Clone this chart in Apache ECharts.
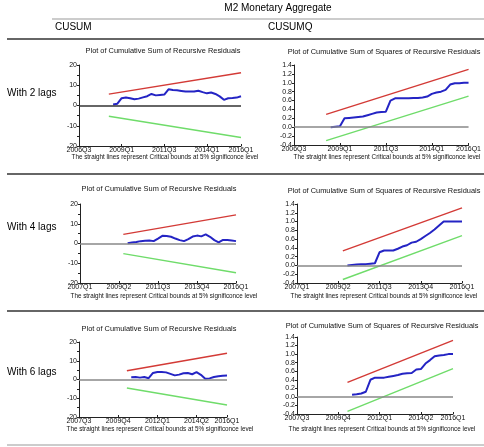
<!DOCTYPE html>
<html>
<head>
<meta charset="utf-8">
<script src="https://cdn.jsdelivr.net/npm/echarts@6/dist/echarts.min.js"></script>
<style>
html,body{margin:0;padding:0;background:#fff}
#main{width:484px;height:447px}
</style>
</head>
<body>
<div id="main"></div>
<script>
// tick labels for each lag row
var ticks2 = ['2006Q3', '2009Q1', '2011Q3', '2014Q1', '2016Q1'];
var ticks4 = ['2007Q1', '2009Q2', '2011Q3', '2013Q4', '2016Q1'];
var ticks6 = ['2007Q3', '2009Q4', '2012Q1', '2014Q2', '2016Q1'];

// index of first recursive residual on each axis
var start2 = 8, start4 = 11, start6 = 12;

// with 2 lags
var cusum2 = [0.5, 0.9, 3.6, 4.0, 3.6, 3.1, 3.4, 4.0, 4.6, 5.7, 5.0, 5.2, 5.4, 8.0, 7.7, 7.5,
    7.2, 6.9, 6.9, 6.9, 7.3, 6.6, 6.0, 6.4, 5.7, 4.5, 2.8, 3.6, 3.7, 3.9, 4.6];
var cusumq2 = [0.0, 0.01, 0.02, 0.2, 0.21, 0.22, 0.23, 0.24, 0.27, 0.3, 0.33, 0.34, 0.35, 0.6, 0.65, 0.65,
    0.65, 0.65, 0.66, 0.66, 0.67, 0.69, 0.75, 0.78, 0.8, 0.84, 0.96, 0.99, 0.99, 1.0, 1.0];
var upper2 = [5.6, 16.2], lower2 = [-5.3, -15.8];
var upperq2 = [0.29, 1.30], lowerq2 = [-0.30, 0.70];

// with 4 lags
var cusum4 = [0.1, 0.5, 0.8, 1.2, 1.4, 1.5, 1.2, 2.5, 3.9, 3.8, 3.4, 2.5, 1.7, 1.2, 2.2, 3.5,
    4.0, 3.6, 4.6, 3.4, 1.7, 0.6, 1.8, 1.8, 1.5, 1.2];
var cusumq4 = [0.0, 0.01, 0.02, 0.03, 0.03, 0.04, 0.05, 0.3, 0.34, 0.34, 0.34, 0.38, 0.43, 0.46, 0.52, 0.54,
    0.6, 0.67, 0.74, 0.82, 0.91, 1.0, 1.0, 1.0, 1.0, 1.0];
var upper4 = [4.6, 14.5], lower4 = [-5.1, -14.8];
var upperq4 = [0.33, 1.31], lowerq4 = [-0.32, 0.68];

// with 6 lags
var cusum6 = [1.2, 1.3, 1.0, 1.3, 0.7, 3.5, 4.0, 4.0, 3.8, 3.0, 2.2, 2.6, 3.3, 3.5, 2.8, 3.9,
    2.5, 0.4, 0.6, 1.3, 1.7, 2.0, 2.1];
var cusumq6 = [0.05, 0.06, 0.08, 0.12, 0.4, 0.45, 0.45, 0.45, 0.47, 0.49, 0.51, 0.54, 0.55, 0.56, 0.64, 0.65,
    0.78, 0.86, 0.95, 0.97, 0.98, 1.0, 1.0];
var upper6 = [4.7, 14.0], lower6 = [-4.5, -13.6];
var upperq6 = [0.34, 1.32], lowerq6 = [-0.34, 0.66];

// quarter categories between two labels
function quarters(a, b) {
    var y = +a.slice(0, 4), q = +a.slice(5), out = [];
    while (true) {
        var s = y + 'Q' + q;
        out.push(s);
        if (s === b || out.length > 200) break;
        q++;
        if (q > 4) { q = 1; y++; }
    }
    return out;
}
var cats2 = quarters(ticks2[0], '2016Q1');
var cats4 = quarters(ticks4[0], '2016Q1');
var cats6 = quarters(ticks6[0], '2016Q1');

function pad(vals, start, n) {
    var d = [];
    for (var i = 0; i < n; i++) d.push(i >= start && i - start < vals.length ? vals[i - start] : null);
    return d;
}
function ends(pair, start, n) {
    var d = [];
    for (var i = 0; i < n; i++) d.push(null);
    d[start] = pair[0];
    d[n - 1] = pair[1];
    return d;
}

var FONT = 'Liberation Sans, Arial, sans-serif';
var grids = [], xAxes = [], yAxes = [], series = [], texts = [];

function addChart(box, cats, ticks, start, vals, upper, lower, isQ, zeroColor, title, tx, ty, fx, fy) {
    var k = grids.length;
    var n = cats.length;
    grids.push({left: box[0], top: box[1], width: box[2], height: box[3]});
    var show = function (i, v) { return ticks.indexOf(v) >= 0; };
    xAxes.push({
        type: 'category', gridIndex: k, data: cats, boundaryGap: false,
        axisLine: {show: true, onZero: false, lineStyle: {color: '#222', width: 1}},
        axisTick: {show: true, inside: true, length: 2, interval: show, lineStyle: {color: '#222'}},
        axisLabel: {interval: show, margin: 1, fontSize: 7, color: '#111', fontFamily: FONT, showMaxLabel: true},
        splitLine: {show: false}
    });
    yAxes.push({
        type: 'value', gridIndex: k,
        min: isQ ? -0.4 : -20, max: isQ ? 1.4 : 20, interval: isQ ? 0.2 : 10,
        axisLine: {show: true, lineStyle: {color: '#222', width: 1}},
        axisTick: {show: true, length: 2, lineStyle: {color: '#222'}},
        minorTick: {show: !isQ, splitNumber: 2, length: 2, lineStyle: {color: '#222'}},
        axisLabel: {margin: 2, fontSize: 7, color: '#111', fontFamily: FONT,
            formatter: function (v) { return isQ ? v.toFixed(1) : String(Math.round(v)); }},
        splitLine: {show: false}
    });
    series.push({
        type: 'line', xAxisIndex: k, yAxisIndex: k, data: [], silent: true, z: 1,
        markLine: {silent: true, symbol: 'none', label: {show: false}, animation: false,
            lineStyle: {color: zeroColor, width: 1.5, type: 'solid'}, data: [{yAxis: 0}]}
    });
    series.push({
        type: 'line', xAxisIndex: k, yAxisIndex: k, data: ends(upper, start - 1, n), connectNulls: true,
        showSymbol: false, lineStyle: {color: '#d33a36', width: 1.4}, z: 2, animation: false
    });
    series.push({
        type: 'line', xAxisIndex: k, yAxisIndex: k, data: ends(lower, start - 1, n), connectNulls: true,
        showSymbol: false, lineStyle: {color: '#6fdc6a', width: 1.4}, z: 2, animation: false
    });
    series.push({
        type: 'line', xAxisIndex: k, yAxisIndex: k, data: pad(vals, start, n),
        showSymbol: false, lineStyle: {color: '#2424c4', width: 2}, z: 3, animation: false
    });
    texts.push({type: 'text', x: tx, y: ty, style: {text: title, font: '7.4px ' + FONT, fill: '#111', align: 'center', verticalAlign: 'middle'}});
    texts.push({type: 'text', x: fx, y: fy, style: {text: 'The straight lines represent Critical bounds at 5% significonce level',
        font: '6.3px ' + FONT, fill: '#111', align: 'center', verticalAlign: 'middle'}});
}

var t1 = 'Plot of Cumulative Sum of Recursive Residuals';
var t2 = 'Plot of Cumulative Sum of Squares of Recursive Residuals';

addChart([79, 65, 162, 81], cats2, ticks2, start2, cusum2, upper2, lower2, false, '#333', t1, 163, 51, 165, 157);
addChart([294, 65, 179, 80], cats2, ticks2, start2, cusumq2, upperq2, lowerq2, true, '#888', t2, 384, 52, 387, 157);
addChart([80, 204, 156, 79], cats4, ticks4, start4, cusum4, upper4, lower4, false, '#888', t1, 159, 189, 164, 296);
addChart([297, 204, 165, 79], cats4, ticks4, start4, cusumq4, upperq4, lowerq4, true, '#888', t2, 384, 191, 384, 296);
addChart([79, 342, 148, 75], cats6, ticks6, start6, cusum6, upper6, lower6, false, '#888', t1, 159, 329, 160, 429);
addChart([297, 337, 156, 77], cats6, ticks6, start6, cusumq6, upperq6, lowerq6, true, '#888', t2, 382, 326, 382, 429);

// table frame and headings
function hline(y, x1, color, w) {
    return {type: 'line', shape: {x1: x1, y1: y, x2: 484, y2: y}, style: {stroke: color, lineWidth: w}};
}
function label(text, x, y, size, align) {
    return {type: 'text', x: x, y: y, style: {text: text, font: size + 'px ' + FONT, fill: '#000', align: align, verticalAlign: 'middle'}};
}
texts.push(label('M2 Monetary Aggregate', 278, 8, 10, 'center'));
texts.push(hline(19, 52, '#999', 1));
texts.push(label('CUSUM', 55, 27, 10, 'left'));
texts.push(label('CUSUMQ', 268, 27, 10, 'left'));
texts.push(hline(39, 7, '#333', 1.5));
texts.push(hline(174, 7, '#333', 1.5));
texts.push(hline(311, 7, '#333', 1.5));
texts.push(hline(445, 7, '#bbb', 1.5));
texts.push(label('With 2 lags', 7, 93, 10, 'left'));
texts.push(label('With 4 lags', 7, 227, 10, 'left'));
texts.push(label('With 6 lags', 7, 372, 10, 'left'));

var myChart = echarts.init(document.getElementById('main'));
myChart.setOption({
    backgroundColor: '#fff',
    animation: false,
    grid: grids,
    xAxis: xAxes,
    yAxis: yAxes,
    series: series,
    graphic: texts
});
</script>
</body>
</html>
